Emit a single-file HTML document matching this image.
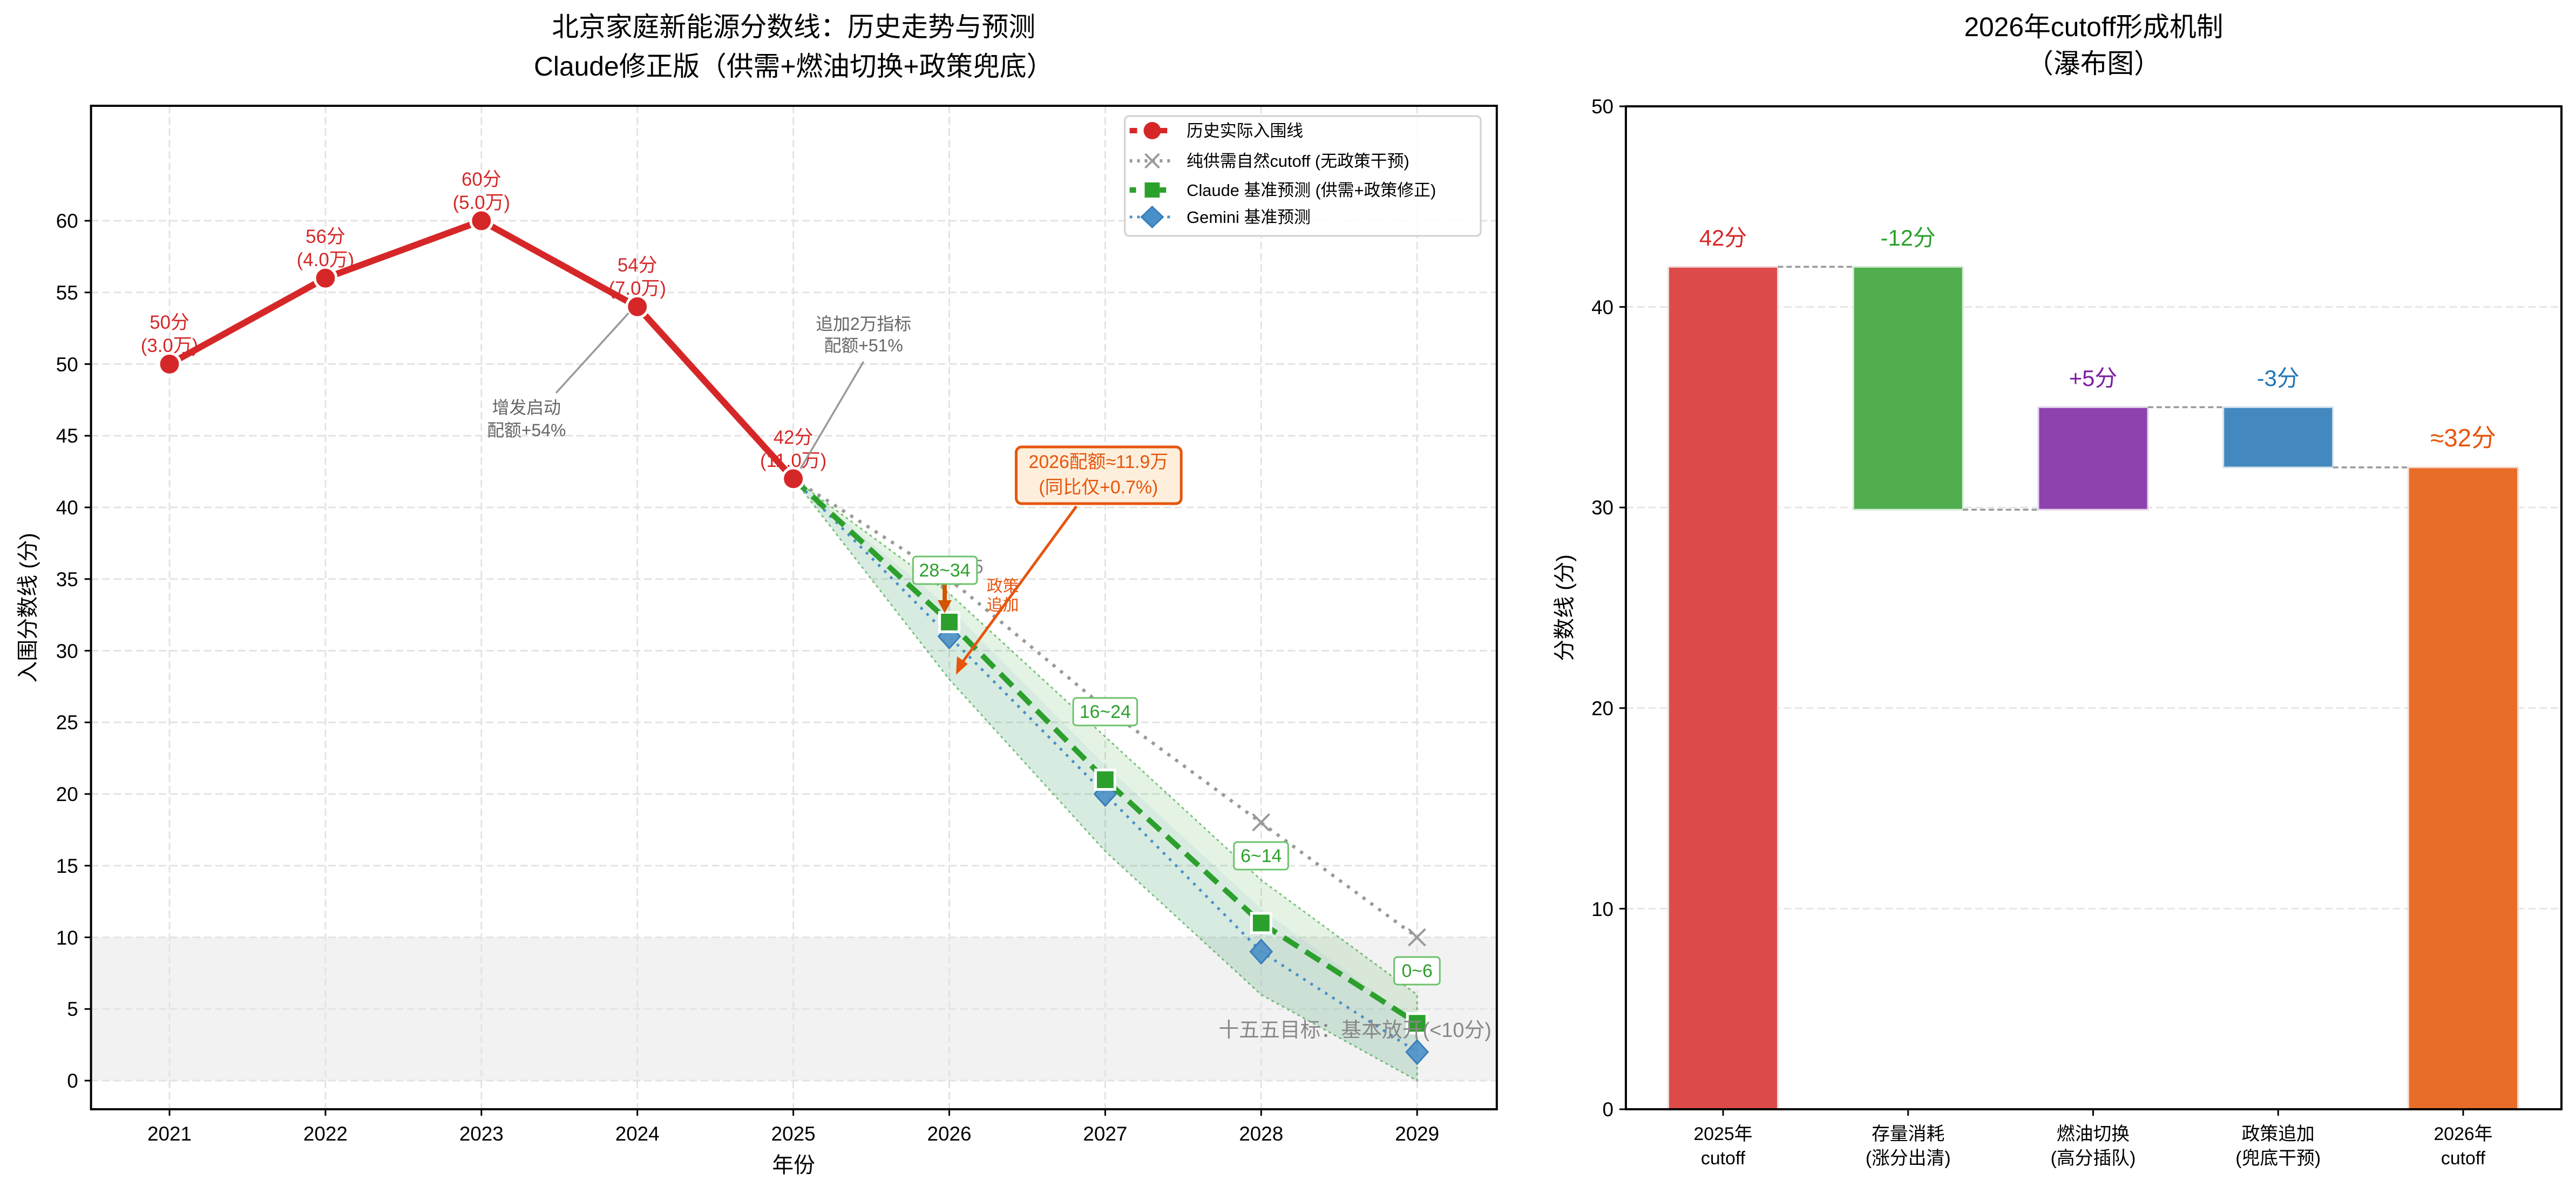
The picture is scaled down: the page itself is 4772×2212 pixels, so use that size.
<!DOCTYPE html>
<html><head><meta charset="utf-8"><style>
html,body{margin:0;padding:0;background:#fff;}
svg{display:block;font-family:"Liberation Sans","Noto Sans CJK SC",sans-serif;}
</style></head><body>
<svg width="4772" height="2212" viewBox="0 0 4772 2212" xmlns="http://www.w3.org/2000/svg">
<rect width="4772" height="2212" fill="#fff"/>
<g transform="matrix(0.99586,0,0,1,-0.69,0)">
<!-- LEFT TITLE -->
<text x="1477" y="67" font-size="50" text-anchor="middle">北京家庭新能源分数线：历史走势与预测</text>
<text x="1477" y="140" font-size="50" text-anchor="middle">Claude修正版（供需+燃油切换+政策兜底）</text>

<!-- grey target span -->
<rect x="170" y="1736.5" width="2615" height="265.5" fill="#f2f2f2"/>
<!-- grid -->
<g stroke="#e3e3e3" stroke-width="3" stroke-dasharray="14,7">
<line x1="170" x2="2785" y1="2002" y2="2002"/><line x1="170" x2="2785" y1="1869.25" y2="1869.25"/>
<line x1="170" x2="2785" y1="1736.5" y2="1736.5"/><line x1="170" x2="2785" y1="1603.75" y2="1603.75"/>
<line x1="170" x2="2785" y1="1471" y2="1471"/><line x1="170" x2="2785" y1="1338.25" y2="1338.25"/>
<line x1="170" x2="2785" y1="1205.5" y2="1205.5"/><line x1="170" x2="2785" y1="1072.75" y2="1072.75"/>
<line x1="170" x2="2785" y1="940" y2="940"/><line x1="170" x2="2785" y1="807.25" y2="807.25"/>
<line x1="170" x2="2785" y1="674.5" y2="674.5"/><line x1="170" x2="2785" y1="541.75" y2="541.75"/>
<line x1="170" x2="2785" y1="409" y2="409"/>
<line y1="196" y2="2055" x1="316" x2="316"/><line y1="196" y2="2055" x1="606.1" x2="606.1"/>
<line y1="196" y2="2055" x1="896.2" x2="896.2"/><line y1="196" y2="2055" x1="1186.3" x2="1186.3"/>
<line y1="196" y2="2055" x1="1476.4" x2="1476.4"/><line y1="196" y2="2055" x1="1766.5" x2="1766.5"/>
<line y1="196" y2="2055" x1="2056.6" x2="2056.6"/><line y1="196" y2="2055" x1="2346.7" x2="2346.7"/>
<line y1="196" y2="2055" x1="2636.8" x2="2636.8"/>
</g>
<!-- bands -->
<polygon points="1476.4,886.9 1766.5,1099.3 2056.6,1364.8 2346.7,1630.3 2636.8,1842.7 2636.8,2002 2346.7,1842.7 2056.6,1577.2 1766.5,1258.6" fill="#2ca02c" fill-opacity="0.13" stroke="#2ca02c" stroke-opacity="0.6" stroke-width="3" stroke-dasharray="5,6"/>
<polygon points="1476.4,886.9 1766.5,1125.9 2056.6,1417.9 2346.7,1683.4 2636.8,1895.8 2636.8,2002 2346.7,1842.7 2056.6,1577.2 1766.5,1258.6" fill="#4a90c8" fill-opacity="0.07"/>
<!-- natural cutoff -->
<polyline points="1476.4,886.9 1766.5,1072.75 2056.6,1311.7 2346.7,1524.1 2636.8,1736.5" fill="none" stroke="#999" stroke-width="6" stroke-dasharray="6,12"/>
<g stroke="#999" stroke-width="4">
<path d="M1751,1057 l31,31 m0,-31 l-31,31"/><path d="M2041,1296 l31,31 m0,-31 l-31,31"/>
<path d="M2331,1508 l31,31 m0,-31 l-31,31"/><path d="M2621,1721 l31,31 m0,-31 l-31,31"/>
</g>
<text x="1790" y="1062" font-size="36" fill="#888">35</text>
<!-- gemini -->
<polyline points="1476.4,886.9 1766.5,1179 2056.6,1471 2346.7,1763.05 2636.8,1948.9" fill="none" stroke="#4a90c8" stroke-width="5" stroke-dasharray="5,11"/>
<g fill="#4a90c8" fill-opacity="0.9" stroke="#3a7fb8" stroke-width="3">
<path d="M1766.5,1157 l20,22 l-20,22 l-20,-22z"/><path d="M2056.6,1449 l20,22 l-20,22 l-20,-22z"/>
<path d="M2346.7,1741 l20,22 l-20,22 l-20,-22z"/><path d="M2636.8,1927 l20,22 l-20,22 l-20,-22z"/>
</g>
<!-- claude -->
<polyline points="1476.4,886.9 1766.5,1152.4 2056.6,1444.45 2346.7,1709.95 2636.8,1895.8" fill="none" stroke="#2ca02c" stroke-width="10" stroke-dasharray="32,16"/>
<g fill="#2ca02c" stroke="#fff" stroke-width="5">
<rect x="1748.5" y="1134.4" width="36" height="36"/><rect x="2038.6" y="1426.45" width="36" height="36"/>
<rect x="2328.7" y="1691.95" width="36" height="36"/><rect x="2618.8" y="1877.8" width="36" height="36"/>
</g>
<!-- history -->
<polyline points="316,674.5 606.1,515.2 896.2,409 1186.3,568.3 1476.4,886.9" fill="none" stroke="#d62728" stroke-width="12" stroke-linejoin="round"/>
<g fill="#d62728" stroke="#fff" stroke-width="5">
<circle cx="316" cy="674.5" r="20"/><circle cx="606.1" cy="515.2" r="20"/><circle cx="896.2" cy="409" r="20"/>
<circle cx="1186.3" cy="568.3" r="20"/><circle cx="1476.4" cy="886.9" r="20"/>
</g>
<g fill="#d62728" font-size="35" text-anchor="middle">
<text x="316" y="609">50分</text><text x="316" y="652">(3.0万)</text>
<text x="606.1" y="450">56分</text><text x="606.1" y="493">(4.0万)</text>
<text x="896.2" y="344">60分</text><text x="896.2" y="387">(5.0万)</text>
<text x="1186.3" y="503">54分</text><text x="1186.3" y="546">(7.0万)</text>
<text x="1476.4" y="822">42分</text><text x="1476.4" y="865">(11.0万)</text>
</g>
<!-- annotations -->
<g stroke="#999" stroke-width="3.5" fill="none">
<line x1="1035" y1="728" x2="1170" y2="580"/><line x1="1607" y1="670" x2="1490" y2="868"/>
</g>
<g fill="#666" font-size="32" text-anchor="middle">
<text x="980" y="766">增发启动</text><text x="980" y="808">配额+54%</text>
<text x="1607" y="611">追加2万指标</text><text x="1607" y="651">配额+51%</text>
</g>
<line x1="2003" y1="938" x2="1785" y2="1235" stroke="#e6550d" stroke-width="5"/>
<path d="M1779,1250 l2,-34 l20,14z" fill="#e6550d"/>
<rect x="1891" y="828" width="307" height="105" rx="10" fill="#fdefdc" stroke="#e6550d" stroke-width="5"/>
<g fill="#e6550d" font-size="34" text-anchor="middle">
<text x="2044" y="867">2026配额≈11.9万</text><text x="2044" y="914">(同比仅+0.7%)</text>
</g>
<line x1="1758" y1="1078" x2="1758" y2="1118" stroke="#d35400" stroke-width="8"/>
<path d="M1745,1112 h26 l-13,24z" fill="#d35400"/>
<g fill="#e6550d" font-size="30"><text x="1836" y="1096">政策</text><text x="1836" y="1131">追加</text></g>
<g font-size="34" fill="#2ca02c" text-anchor="middle">
<rect x="1699" y="1031" width="119" height="51" rx="6" fill="#fff" stroke="#6cc36c" stroke-width="3"/><text x="1758" y="1068">28~34</text>
<rect x="1997" y="1293" width="119" height="51" rx="6" fill="#fff" stroke="#6cc36c" stroke-width="3"/><text x="2056.6" y="1330">16~24</text>
<rect x="2296" y="1560" width="101" height="51" rx="6" fill="#fff" stroke="#6cc36c" stroke-width="3"/><text x="2346.7" y="1597">6~14</text>
<rect x="2594" y="1773" width="85" height="51" rx="6" fill="#fff" stroke="#6cc36c" stroke-width="3"/><text x="2636.8" y="1810">0~6</text>
</g>
<text x="2775" y="1921" font-size="38" fill="#888" text-anchor="end">十五五目标：基本放开(&lt;10分)</text>
<!-- legend -->
<rect x="2093" y="215" width="662" height="222" rx="8" fill="#fff" fill-opacity="0.85" stroke="#d0d0d0" stroke-width="3"/>
<line x1="2102" x2="2186" y1="242" y2="242" stroke="#d62728" stroke-width="10" stroke-dasharray="14,14"/>
<circle cx="2144" cy="242" r="16" fill="#d62728"/>
<line x1="2102" x2="2186" y1="298" y2="298" stroke="#999" stroke-width="6" stroke-dasharray="5,9"/>
<path d="M2131,285 l26,26 m0,-26 l-26,26" stroke="#999" stroke-width="4"/>
<line x1="2102" x2="2186" y1="352" y2="352" stroke="#2ca02c" stroke-width="10" stroke-dasharray="12,16"/>
<rect x="2130" y="338" width="28" height="28" fill="#2ca02c"/>
<line x1="2102" x2="2186" y1="402" y2="402" stroke="#4a90c8" stroke-width="5" stroke-dasharray="5,9"/>
<path d="M2144,383 l20,19 l-20,19 l-20,-19z" fill="#4a90c8" stroke="#3a7fb8" stroke-width="3"/>
<g font-size="31" fill="#000">
<text x="2208" y="253">历史实际入围线</text><text x="2208" y="309">纯供需自然cutoff (无政策干预)</text>
<text x="2208" y="363">Claude 基准预测 (供需+政策修正)</text><text x="2208" y="413">Gemini 基准预测</text>
</g>
<!-- left axes frame -->
<rect x="170" y="196" width="2615" height="1859" fill="none" stroke="#000" stroke-width="4"/>
<g stroke="#000" stroke-width="3">
<line x1="158" x2="170" y1="2002" y2="2002"/><line x1="158" x2="170" y1="1869.25" y2="1869.25"/><line x1="158" x2="170" y1="1736.5" y2="1736.5"/>
<line x1="158" x2="170" y1="1603.75" y2="1603.75"/><line x1="158" x2="170" y1="1471" y2="1471"/><line x1="158" x2="170" y1="1338.25" y2="1338.25"/>
<line x1="158" x2="170" y1="1205.5" y2="1205.5"/><line x1="158" x2="170" y1="1072.75" y2="1072.75"/><line x1="158" x2="170" y1="940" y2="940"/>
<line x1="158" x2="170" y1="807.25" y2="807.25"/><line x1="158" x2="170" y1="674.5" y2="674.5"/><line x1="158" x2="170" y1="541.75" y2="541.75"/><line x1="158" x2="170" y1="409" y2="409"/>
<line y1="2055" y2="2067" x1="316" x2="316"/><line y1="2055" y2="2067" x1="606.1" x2="606.1"/><line y1="2055" y2="2067" x1="896.2" x2="896.2"/>
<line y1="2055" y2="2067" x1="1186.3" x2="1186.3"/><line y1="2055" y2="2067" x1="1476.4" x2="1476.4"/><line y1="2055" y2="2067" x1="1766.5" x2="1766.5"/>
<line y1="2055" y2="2067" x1="2056.6" x2="2056.6"/><line y1="2055" y2="2067" x1="2346.7" x2="2346.7"/><line y1="2055" y2="2067" x1="2636.8" x2="2636.8"/>
</g>
<g font-size="37" text-anchor="end">
<text x="146" y="2015">0</text><text x="146" y="1882">5</text><text x="146" y="1750">10</text><text x="146" y="1617">15</text>
<text x="146" y="1484">20</text><text x="146" y="1351">25</text><text x="146" y="1219">30</text><text x="146" y="1086">35</text>
<text x="146" y="953">40</text><text x="146" y="820">45</text><text x="146" y="688">50</text><text x="146" y="555">55</text><text x="146" y="422">60</text>
</g>
<g font-size="37" text-anchor="middle">
<text x="316" y="2113">2021</text><text x="606.1" y="2113">2022</text><text x="896.2" y="2113">2023</text>
<text x="1186.3" y="2113">2024</text><text x="1476.4" y="2113">2025</text><text x="1766.5" y="2113">2026</text>
<text x="2056.6" y="2113">2027</text><text x="2346.7" y="2113">2028</text><text x="2636.8" y="2113">2029</text>
</g>
<text x="1477" y="2172" font-size="40" text-anchor="middle">年份</text>
<text transform="translate(66,1126) rotate(-90)" font-size="40" text-anchor="middle">入围分数线 (分)</text>
</g>

<!-- RIGHT CHART -->
<g transform="matrix(0.99492,0,0,1,16.2,0)">
<text x="3882" y="67" font-size="50" text-anchor="middle">2026年cutoff形成机制</text>
<text x="3882" y="135" font-size="50" text-anchor="middle">（瀑布图）</text>
<g stroke="#e6e6e6" stroke-width="3" stroke-dasharray="14,7">
<line x1="3011" x2="4753" y1="1683.4" y2="1683.4"/><line x1="3011" x2="4753" y1="1311.8" y2="1311.8"/>
<line x1="3011" x2="4753" y1="940.2" y2="940.2"/><line x1="3011" x2="4753" y1="568.6" y2="568.6"/>
</g>
<g stroke="#f3dcdc" stroke-width="3">
<rect x="3090" y="494.3" width="204" height="1560.7" fill="#dc4a4a"/>
<rect x="3434.5" y="494.3" width="204" height="449.9" fill="#50ae4f" stroke="#d7ecd7"/>
<rect x="3779" y="754.4" width="204" height="189.8" fill="#8e42ad" stroke="#e3d3ea"/>
<rect x="4123.5" y="754.4" width="204" height="111.5" fill="#4389c0" stroke="#d3e2ef"/>
<rect x="4468" y="865.9" width="204" height="1189.1" fill="#e96c28" stroke="#f6d7c8"/>
</g>
<g stroke="#999" stroke-width="3.5" stroke-dasharray="10,6">
<line x1="3294" x2="3434.5" y1="494.3" y2="494.3"/><line x1="3638.5" x2="3779" y1="944.2" y2="944.2"/>
<line x1="3983" x2="4123.5" y1="754.4" y2="754.4"/><line x1="4327.5" x2="4468" y1="865.9" y2="865.9"/>
</g>
<g font-size="42" text-anchor="middle">
<text x="3192" y="455" fill="#d62728">42分</text>
<text x="3536.5" y="455" fill="#2ca02c">-12分</text>
<text x="3881" y="715" fill="#7b1fa2">+5分</text>
<text x="4225.5" y="715" fill="#1f77b4">-3分</text>
<text x="4570" y="827" fill="#e6550d" font-size="46">≈32分</text>
</g>
<rect x="3011" y="197" width="1742" height="1858" fill="none" stroke="#000" stroke-width="4"/>
<g stroke="#000" stroke-width="3">
<line x1="2999" x2="3011" y1="2055" y2="2055"/><line x1="2999" x2="3011" y1="1683.4" y2="1683.4"/><line x1="2999" x2="3011" y1="1311.8" y2="1311.8"/>
<line x1="2999" x2="3011" y1="940.2" y2="940.2"/><line x1="2999" x2="3011" y1="568.6" y2="568.6"/><line x1="2999" x2="3011" y1="197" y2="197"/>
<line y1="2055" y2="2067" x1="3192" x2="3192"/><line y1="2055" y2="2067" x1="3536.5" x2="3536.5"/><line y1="2055" y2="2067" x1="3881" x2="3881"/>
<line y1="2055" y2="2067" x1="4225.5" x2="4225.5"/><line y1="2055" y2="2067" x1="4570" x2="4570"/>
</g>
<g font-size="37" text-anchor="end">
<text x="2988" y="2068">0</text><text x="2988" y="1697">10</text><text x="2988" y="1325">20</text>
<text x="2988" y="953">30</text><text x="2988" y="582">40</text><text x="2988" y="210">50</text>
</g>
<g font-size="34" text-anchor="middle">
<text x="3192" y="2112">2025年</text><text x="3192" y="2157">cutoff</text>
<text x="3536.5" y="2112">存量消耗</text><text x="3536.5" y="2157">(涨分出清)</text>
<text x="3881" y="2112">燃油切换</text><text x="3881" y="2157">(高分插队)</text>
<text x="4225.5" y="2112">政策追加</text><text x="4225.5" y="2157">(兜底干预)</text>
<text x="4570" y="2112">2026年</text><text x="4570" y="2157">cutoff</text>
</g>
<text transform="translate(2910,1126) rotate(-90)" font-size="40" text-anchor="middle">分数线 (分)</text>
</g>
</svg>
</body></html>
